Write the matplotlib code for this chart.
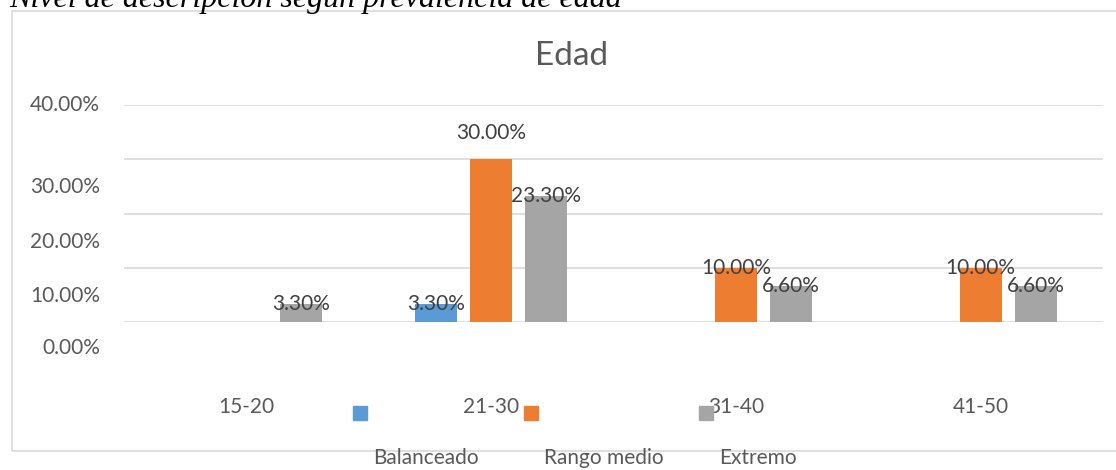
import numpy as np
import matplotlib.pyplot as plt
from matplotlib.patches import Rectangle

plt.rcParams['font.family'] = ['Lato', 'DejaVu Sans']

# data
grupos = ['15-20', '21-30', '31-40', '41-50']
series = ['Balanceado', 'Rango medio', 'Extremo']
balanceado = [0.0, 3.3, 0.0, 0.0]
rango_medio = [0.0, 30.0, 10.0, 10.0]
extremo = [3.3, 23.3, 6.6, 6.6]
ticks_y = [0, 10, 20, 30, 40]
# the y labels in the source sit off their gridlines
pos_etiquetas_y = [-4.7, 4.8, 14.8, 24.9, 39.9]

colores = ['#5B9BD5', '#ED7D31', '#A5A5A5']
gris_txt = '#595959'
fs = 15

W, H = 1116, 470
fig = plt.figure(figsize=(W / 100, H / 100), dpi=100)


def fx(px):
    return px / W


def fy(py):
    return 1 - py / H


ax = fig.add_axes([fx(124), fy(322.3), fx(1103) - fx(124), fy(104.7) - fy(322.3)])

x = np.arange(len(grupos))
ancho = 0.172
paso = 0.225
valores = [balanceado, rango_medio, extremo]
vmax = max(max(v) for v in valores)
for k, (vals, col) in enumerate(zip(valores, colores)):
    xs = x + (k - 1) * paso
    ax.bar(xs, vals, width=ancho, color=col, zorder=3)
    for xi, v in zip(xs, vals):
        if v == 0:
            continue
        dy = 19 if v == vmax else 0
        ax.annotate(f'{v:.2f}%', (xi, v), xytext=(0, dy), textcoords='offset points',
                    ha='center', va='center', fontsize=fs, color='#404040', zorder=4)

ax.set_xlim(-0.5, len(grupos) - 0.5)
ax.set_ylim(0, 40)
ax.set_yticks(ticks_y)
ax.yaxis.grid(True, color='#D9D9D9', lw=1.2, zorder=0)
ax.tick_params(axis='y', length=0, labelleft=False)
ax.set_xticks(x, grupos)
ax.tick_params(axis='x', length=0, pad=54, labelsize=fs, labelcolor=gris_txt)
for s in ax.spines.values():
    s.set_visible(False)

for t, yv in zip(ticks_y, pos_etiquetas_y):
    ax.text(-24 / 979, yv, f'{t:.2f}%', transform=ax.get_yaxis_transform(),
            ha='right', va='center', fontsize=fs, color=gris_txt)

# chart frame
fig.patches.append(Rectangle((fx(12), fy(451)), fx(1130) - fx(12), fy(11) - fy(451),
                             transform=fig.transFigure, fill=False,
                             edgecolor='#D9D9D9', lw=1.2, zorder=0))

fig.text(fx(572), fy(56), 'Edad', ha='center', va='center', fontsize=24, color=gris_txt)
fig.text(fx(9), fy(7), 'Nivel de descripción según prevalencia de edad', ha='left',
         va='baseline', fontsize=23, style='italic', family='Liberation Serif', color='black')

# legend, laid out as in the source
for nombre, col, xl in zip(series, colores, [353, 524, 699]):
    fig.patches.append(Rectangle((fx(xl), fy(420)), fx(14), 14 / H,
                                 transform=fig.transFigure, color=col))
    fig.text(fx(xl + 20), fy(458), nombre, ha='left', va='center', fontsize=fs, color=gris_txt)

fig.savefig('out.png', dpi=100)
